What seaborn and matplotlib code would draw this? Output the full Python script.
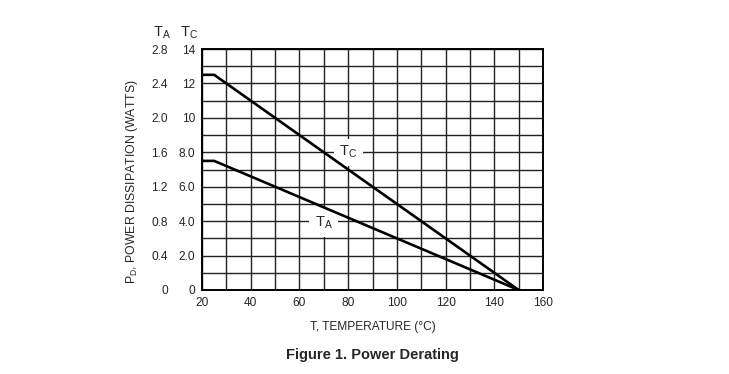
import matplotlib
matplotlib.use('Agg')
import matplotlib.pyplot as plt
import seaborn as sns
import pandas as pd

# data
temps = [20, 25, 150]
tc_watts = [12.5, 12.5, 0]
ta_watts = [1.5, 1.5, 0]

x_ticks = [20, 40, 60, 80, 100, 120, 140, 160]
tc_ticks = [0, 2, 4, 6, 8, 10, 12, 14]
tc_labels = ['0', '2.0', '4.0', '6.0', '8.0', '10', '12', '14']
ta_ticks = [0, 0.4, 0.8, 1.2, 1.6, 2.0, 2.4, 2.8]
ta_labels = ['0', '0.4', '0.8', '1.2', '1.6', '2.0', '2.4', '2.8']

sns.set_style('white')
plt.rcParams['font.family'] = ['Liberation Sans', 'DejaVu Sans']
plt.rcParams['mathtext.fontset'] = 'custom'
plt.rcParams['mathtext.rm'] = 'Liberation Sans'

fig = plt.figure(figsize=(7.29, 3.74), dpi=100)
ax = fig.add_axes([202 / 729, 1 - 290 / 374, 341 / 729, 241 / 374])
ax2 = ax.twinx()

df_tc = pd.DataFrame({'temp': temps, 'pd': tc_watts})
df_ta = pd.DataFrame({'temp': temps, 'pd': ta_watts})
sns.lineplot(data=df_tc, x='temp', y='pd', ax=ax, color='black', linewidth=1.9, zorder=5)
sns.lineplot(data=df_ta, x='temp', y='pd', ax=ax2, color='black', linewidth=1.9)

ax.set_xlim(20, 160)
ax.set_ylim(0, 14)
ax2.set_ylim(0, 2.8)

ax.set_xticks(x_ticks)
ax.set_xticks(range(20, 161, 10), minor=True)
ax.set_yticks(tc_ticks)
ax.set_yticklabels(tc_labels)
ax.set_yticks(range(0, 15), minor=True)
ax.grid(True, which='both', color='#222222', linewidth=1.0)
ax.tick_params(which='both', length=0, labelsize=8.6, pad=5)
ax.set_xlabel('T, TEMPERATURE (°C)', fontsize=8.6, labelpad=9)
ax.set_ylabel('')

for s in ax.spines.values():
    s.set_color('black')
    s.set_linewidth(1.4)

# TA scale as a second column of labels on the left
ax2.yaxis.tick_left()
ax2.spines['left'].set_position(('axes', -34 / 341))
for s in ax2.spines.values():
    s.set_visible(False)
ax2.set_yticks(ta_ticks)
ax2.set_yticklabels(ta_labels)
ax2.tick_params(length=0, labelsize=8.6, pad=0)
ax2.set_ylabel('')
ax2.grid(False)

fig.text(162 / 729, 1 - 33 / 374, r'$\mathregular{T_A}$', ha='center', va='center', fontsize=10.5)
fig.text(189 / 729, 1 - 33 / 374, r'$\mathregular{T_C}$', ha='center', va='center', fontsize=10.5)

box = dict(facecolor='white', edgecolor='none', pad=4)
ax.text(80, 8, r'$\mathregular{T_C}$', ha='center', va='center', fontsize=10.5, bbox=box, zorder=4)
ax.text(70, 3.9, r'$\mathregular{T_A}$', ha='center', va='center', fontsize=10.5, bbox=box, zorder=4)

fig.text(132 / 729, 1 - 182 / 374, r'$\mathregular{P_D}$, POWER DISSIPATION (WATTS)',
         rotation=90, ha='center', va='center', fontsize=8.8)

fig.text(372 / 729, 1 - 355 / 374, 'Figure 1. Power Derating', ha='center', va='center',
         fontsize=10.5, fontweight='bold')

fig.savefig('out.png', dpi=100)
